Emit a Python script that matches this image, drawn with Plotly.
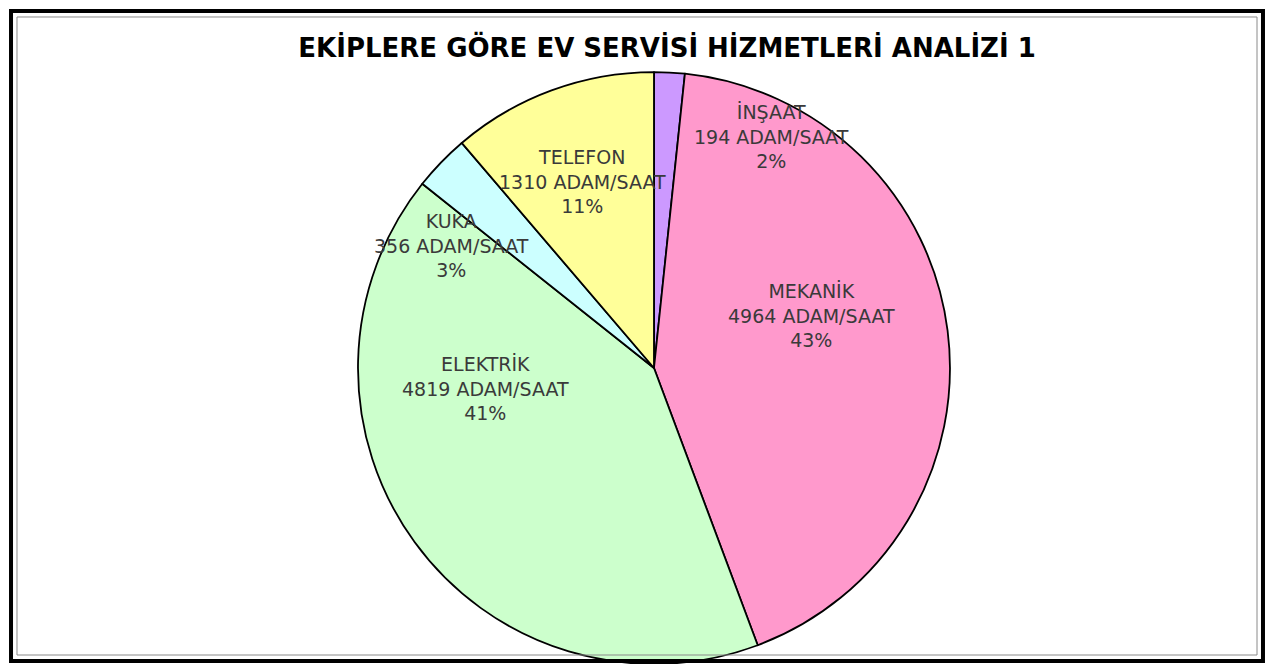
import plotly.graph_objects as go

# ekip bazinda adam/saat
teams = ["İNŞAAT", "MEKANİK", "ELEKTRİK", "KUKA", "TELEFON"]
hours = [194, 4964, 4819, 356, 1310]
colors = ["#CC99FF", "#FF99CC", "#CCFFCC", "#CCFFFF", "#FFFF99"]

title = "EKİPLERE GÖRE EV SERVİSİ HİZMETLERİ ANALİZİ 1"

# etiketlerin yeri (paper koordinati), excel'deki gibi
label_pos = [(0.6073, 0.8034), (0.6391, 0.5305), (0.3792, 0.4207),
             (0.3529, 0.6387), (0.4563, 0.7348)]

W, H = 1258, 656  # sayfanin 8px body margini icin
total = sum(hours)

fig = go.Figure(go.Pie(
    labels=teams,
    values=hours,
    sort=False,
    direction="clockwise",
    rotation=0,
    marker=dict(colors=colors, line=dict(color="black", width=1.8)),
    textinfo="none",
    hoverinfo="label+value+percent",
    showlegend=False,
    domain=dict(x=[0.2782, 0.7488], y=[0.0, 0.9024]),
))

annotations = []
for name, val, (ax, ay) in zip(teams, hours, label_pos):
    pct = round(val / total * 100)
    annotations.append(dict(
        x=ax, y=ay, xref="paper", yref="paper", showarrow=False,
        text=f"{name}<br>{val} ADAM/SAAT<br>{pct}%",
        font=dict(family="DejaVu Sans", size=19, color="#3a3a3a"),
        xanchor="center", yanchor="middle", align="center",
    ))

fig.update_layout(
    width=W, height=H,
    margin=dict(l=0, r=0, t=0, b=0),
    paper_bgcolor="white",
    annotations=annotations,
    title=dict(text="<b>" + title + "</b>", x=0.5239, xanchor="center",
               y=0.939, yanchor="middle",
               font=dict(family="DejaVu Sans", size=26, color="black")),
    shapes=[
        # cerceve
        dict(type="rect", xref="paper", yref="paper", x0=0.0024, x1=0.9976, y0=0.0046, y1=0.9954,
             line=dict(color="black", width=4)),
        dict(type="rect", xref="paper", yref="paper", x0=0.00715, x1=0.99285, y0=0.0137, y1=0.9863,
             line=dict(color="#8a8a8a", width=1)),
    ],
)

fig.write_html("out.html")
